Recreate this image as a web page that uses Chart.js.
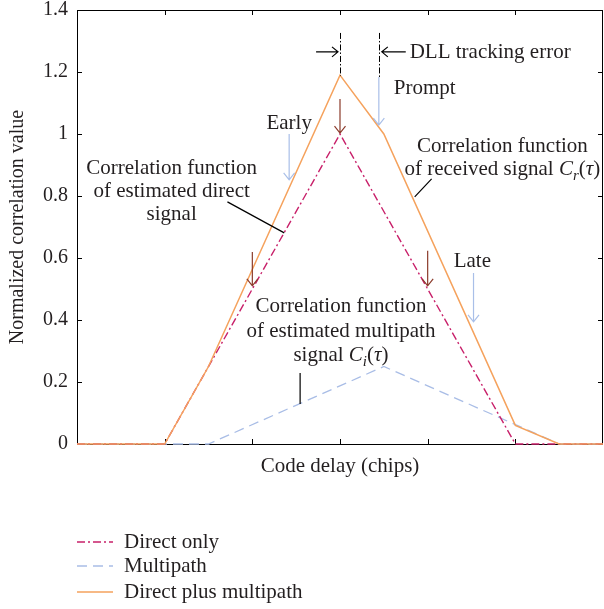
<!DOCTYPE html>
<html>
<head>
<meta charset="utf-8">
<script src="https://cdn.jsdelivr.net/npm/chart.js@4"></script>
<style>
  html, body { margin: 0; padding: 0; background: #fff; }
  canvas { display: block; }
</style>
</head>
<body>
<canvas id="corrChart" width="604" height="609"></canvas>
<script>
// code delay positions (chips) and normalized correlation values
const delayDirect = [0, 1, 3, 5, 6];
const directOnly = [0, 0, 1, 0, 0];
const delayMultipath = [0, 1.5, 3.5, 5.5, 6];
const multipath = [0, 0, 0.25, 0, 0];
const delayCombined = [0, 1, 1.5, 3, 3.5, 5, 5.5, 6];
const directPlusMultipath = [0, 0, 0.25, 1.19, 1.0, 0.06, 0, 0];

const seriesLabels = ['Direct only', 'Multipath', 'Direct plus multipath'];
const xTickValues = [1, 2, 3, 4, 5];
const yTickValues = [0, 0.2, 0.4, 0.6, 0.8, 1, 1.2, 1.4];
const yTickLabels = ['0', '0.2', '0.4', '0.6', '0.8', '1', '1.2', '1.4'];

const FONT = '"Liberation Serif", "Times New Roman", serif';
const TEXT = '#231f20';
const BROWN = '#8b3b2b';
const PALE = '#a9bfe8';

function toPoints(xs, ys) {
    return xs.map((x, i) => ({ x: x, y: ys[i] }));
}

function arrow(ctx, x1, y1, x2, y2, color, len, half) {
    const a = Math.atan2(y2 - y1, x2 - x1);
    ctx.save();
    ctx.strokeStyle = color;
    ctx.lineWidth = 1.2;
    ctx.setLineDash([]);
    ctx.beginPath();
    ctx.moveTo(x1, y1);
    ctx.lineTo(x2, y2);
    ctx.moveTo(x2 - len * Math.cos(a) + half * Math.sin(a), y2 - len * Math.sin(a) - half * Math.cos(a));
    ctx.lineTo(x2, y2);
    ctx.lineTo(x2 - len * Math.cos(a) - half * Math.sin(a), y2 - len * Math.sin(a) + half * Math.cos(a));
    ctx.stroke();
    ctx.restore();
}

// draw a line made of pieces: plain, italic, italic subscript
function richText(ctx, parts, x, y, align, size) {
    const fontOf = p => (p.i ? 'italic ' : '') + (p.sub ? Math.round(size * 0.72) : size) + 'px ' + FONT;
    let total = 0;
    parts.forEach(p => { ctx.font = fontOf(p); total += ctx.measureText(p.t).width; });
    let cx = align === 'center' ? x - total / 2 : x;
    ctx.textAlign = 'left';
    ctx.textBaseline = 'alphabetic';
    parts.forEach(p => {
        ctx.font = fontOf(p);
        ctx.fillText(p.t, cx, p.sub ? y + size * 0.22 : y);
        cx += ctx.measureText(p.t).width;
    });
}

const annotationPlugin = {
    id: 'annotations',
    beforeDatasetsDraw(chart) {
        // frame with inward ticks, under the curves
        const ctx = chart.ctx;
        const xs = chart.scales.x, ys = chart.scales.y;
        const area = chart.chartArea;
        ctx.save();
        ctx.strokeStyle = '#000';
        ctx.lineWidth = 1;
        ctx.setLineDash([]);
        ctx.strokeRect(area.left + 0.5, area.top + 0.5, area.right - area.left - 1, area.bottom - area.top);
        ctx.beginPath();
        xTickValues.forEach(v => {
            const px = Math.round(xs.getPixelForValue(v)) + 0.5;
            ctx.moveTo(px, area.bottom); ctx.lineTo(px, area.bottom - 5);
            ctx.moveTo(px, area.top); ctx.lineTo(px, area.top + 5);
        });
        yTickValues.forEach(v => {
            const py = Math.round(ys.getPixelForValue(v)) + 0.5;
            ctx.moveTo(area.left, py); ctx.lineTo(area.left + 5, py);
            ctx.moveTo(area.right, py); ctx.lineTo(area.right - 5, py);
        });
        ctx.stroke();
        ctx.restore();
    },
    afterDatasetsDraw(chart) {
        const ctx = chart.ctx;
        const xs = chart.scales.x, ys = chart.scales.y;
        const X = v => xs.getPixelForValue(v);
        const Y = v => ys.getPixelForValue(v);

        ctx.save();
        ctx.fillStyle = TEXT;
        const size = 21;

        // Early / Prompt / Late arrows and labels
        arrow(ctx, X(2.42), Y(1.0), X(2.42), Y(0.852), PALE, 7, 5.5);
        arrow(ctx, X(3.443), Y(1.184), X(3.443), Y(1.029), PALE, 7, 5.5);
        arrow(ctx, X(4.523), Y(0.552), X(4.523), Y(0.394), PALE, 7, 5.5);
        richText(ctx, [{ t: 'Early' }], X(2.42), Y(1.016), 'center', size);
        richText(ctx, [{ t: 'Prompt' }], X(3.614), Y(1.129), 'left', size);
        richText(ctx, [{ t: 'Late' }], X(4.51), Y(0.571), 'center', size);

        // E/P/L points on the direct correlation
        arrow(ctx, X(2), Y(0.619), X(2), Y(0.51), BROWN, 7, 5.5);
        arrow(ctx, X(3), Y(1.113), X(3), Y(1.003), BROWN, 7, 5.5);
        arrow(ctx, X(4), Y(0.623), X(4), Y(0.51), BROWN, 7, 5.5);

        // DLL tracking error marker
        ctx.save();
        ctx.strokeStyle = '#000';
        ctx.lineWidth = 1;
        ctx.setLineDash([6, 2, 1.5, 2]);
        ctx.beginPath();
        ctx.moveTo(Math.round(X(3)) + 0.5, Y(1.326)); ctx.lineTo(Math.round(X(3)) + 0.5, Y(1.187));
        ctx.moveTo(Math.round(X(3.443)) + 0.5, Y(1.326)); ctx.lineTo(Math.round(X(3.443)) + 0.5, Y(1.184));
        ctx.stroke();
        ctx.restore();
        arrow(ctx, X(2.727), Y(1.265), X(2.977), Y(1.265), '#000', 6, 5);
        arrow(ctx, X(3.75), Y(1.265), X(3.477), Y(1.265), '#000', 6, 5);
        richText(ctx, [{ t: 'DLL tracking error' }], X(3.795), Y(1.245), 'left', size);

        // callouts
        richText(ctx, [{ t: 'Correlation function' }], X(1.08), Y(0.871), 'center', size);
        richText(ctx, [{ t: 'of estimated direct' }], X(1.08), Y(0.797), 'center', size);
        richText(ctx, [{ t: 'signal' }], X(1.08), Y(0.723), 'center', size);

        richText(ctx, [{ t: 'Correlation function' }], X(4.852), Y(0.942), 'center', size);
        richText(ctx, [{ t: 'of received signal ' }, { t: 'C', i: true }, { t: 'r', i: true, sub: true },
            { t: '(' }, { t: 'τ', i: true }, { t: ')' }], X(4.852), Y(0.868), 'center', size);

        richText(ctx, [{ t: 'Correlation function' }], X(3.011), Y(0.426), 'center', size);
        richText(ctx, [{ t: 'of estimated multipath' }], X(3.011), Y(0.345), 'center', size);
        richText(ctx, [{ t: 'signal ' }, { t: 'C', i: true }, { t: 'i', i: true, sub: true },
            { t: '(' }, { t: 'τ', i: true }, { t: ')' }], X(3.011), Y(0.268), 'center', size);

        ctx.strokeStyle = '#000';
        ctx.lineWidth = 1.2;
        ctx.setLineDash([]);
        ctx.beginPath();
        ctx.moveTo(X(1.716), Y(0.781)); ctx.lineTo(X(2.364), Y(0.681));
        ctx.moveTo(X(4.045), Y(0.855)); ctx.lineTo(X(3.852), Y(0.797));
        ctx.moveTo(X(2.545), Y(0.229)); ctx.lineTo(X(2.545), Y(0.129));
        ctx.stroke();
        ctx.restore();
    },
    afterDraw(chart) {
        // legend under the plot
        const ctx = chart.ctx;
        const rows = [542, 566, 592];
        ctx.save();
        chart.data.datasets.forEach((ds, i) => {
            ctx.strokeStyle = ds.borderColor;
            ctx.lineWidth = ds.borderWidth;
            ctx.setLineDash(ds.borderDash || []);
            ctx.beginPath();
            ctx.moveTo(77, rows[i]);
            ctx.lineTo(113, rows[i]);
            ctx.stroke();
            ctx.setLineDash([]);
            ctx.fillStyle = TEXT;
            ctx.font = '21px ' + FONT;
            ctx.textAlign = 'left';
            ctx.textBaseline = 'middle';
            ctx.fillText(ds.label, 124, rows[i]);
        });
        ctx.restore();
    }
};

const ctx = document.getElementById('corrChart').getContext('2d');
new Chart(ctx, {
    type: 'line',
    data: {
        datasets: [{
            label: seriesLabels[0],
            data: toPoints(delayDirect, directOnly),
            borderColor: '#c8206a',
            borderWidth: 1.4,
            borderDash: [8, 3, 2, 3],
            clip: 4,
            order: 1
        }, {
            label: seriesLabels[1],
            data: toPoints(delayMultipath, multipath),
            borderColor: '#a9bde6',
            borderWidth: 1.3,
            borderDash: [10, 6],
            clip: 4,
            order: 2
        }, {
            label: seriesLabels[2],
            data: toPoints(delayCombined, directPlusMultipath),
            borderColor: '#f5a25d',
            borderWidth: 1.5,
            clip: 4,
            order: 0
        }]
    },
    options: {
        responsive: false,
        animation: false,
        devicePixelRatio: 1,
        layout: { padding: { top: 10, right: 1, bottom: 127, left: 0 } },
        elements: { point: { radius: 0 }, line: { tension: 0 } },
        plugins: {
            legend: { display: false },
            tooltip: { enabled: false }
        },
        scales: {
            x: {
                type: 'linear',
                min: 0,
                max: 6,
                grid: { display: false, drawTicks: false },
                border: { display: false },
                ticks: { display: false, stepSize: 1 },
                title: {
                    display: true,
                    text: 'Code delay (chips)',
                    color: TEXT,
                    font: { family: FONT, size: 21 },
                    padding: { top: 0, bottom: 3 }
                },
                afterFit: scale => { scale.height = 38; scale.paddingLeft = 0; scale.paddingRight = 0; }
            },
            y: {
                min: 0,
                max: 1.4,
                grid: { display: false, drawTicks: false },
                border: { display: false },
                ticks: {
                    stepSize: 0.2,
                    padding: 9,
                    color: TEXT,
                    font: { family: FONT, size: 20 },
                    callback: (v, i) => yTickLabels[i] ?? v
                },
                title: {
                    display: true,
                    text: 'Normalized correlation value',
                    color: TEXT,
                    font: { family: FONT, size: 20 },
                    padding: { top: 6, bottom: 0 }
                },
                afterFit: scale => { scale.width = 77; scale.paddingTop = 0; scale.paddingBottom = 0; }
            }
        }
    },
    plugins: [annotationPlugin]
});
</script>
</body>
</html>
